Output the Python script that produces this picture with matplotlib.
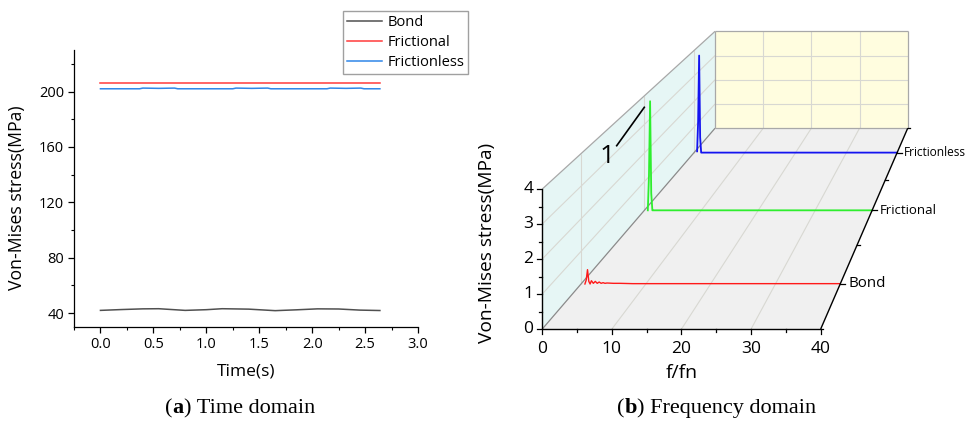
import numpy as np
import matplotlib
matplotlib.use("Agg")
import matplotlib.pyplot as plt
from matplotlib.ticker import MultipleLocator

plt.rcParams['font.family'] = ['Open Sans', 'DejaVu Sans']

# ---- (a) time domain data ----
time = [0.0, 0.2, 0.4, 0.55, 0.8, 1.0, 1.15, 1.4, 1.65, 1.85, 2.05, 2.25, 2.45, 2.64]
bond_t = [42.0, 42.6, 43.1, 43.2, 42.0, 42.5, 43.2, 42.9, 41.8, 42.4, 43.1, 43.0, 42.2, 41.9]
frictional_t = [206.0] * len(time)
time_fl = [0.0, 0.37, 0.40, 0.55, 0.70, 0.73, 1.25, 1.28, 1.43, 1.58, 1.61,
           2.14, 2.17, 2.32, 2.46, 2.49, 2.64]
frictionless_t = [202.0, 202.0, 202.5, 202.3, 202.5, 202.0, 202.0, 202.5, 202.3,
                  202.5, 202.0, 202.0, 202.5, 202.3, 202.5, 202.0, 202.0]

# ---- (b) frequency domain data ----
series_names = ['Bond', 'Frictional', 'Frictionless']
series_colors = ['#FF1A1A', '#2EEE2E', '#1414F0']
freq = [0.6, 0.8, 1.0, 1.2, 1.4, 1.6, 1.9, 2.2, 2.5, 2.8, 3.1, 3.4, 3.7, 4.0,
        5.0, 6.0, 8.0, 10, 15, 20, 25, 30, 35, 40]
bond_f = [0.0, 0.12, 0.44, 0.08, 0.0, 0.1, 0.02, 0.08, 0.02, 0.06, 0.02, 0.04,
          0.02, 0.03, 0.02, 0.02, 0.01, 0.01, 0.01, 0.01, 0.01, 0.01, 0.01, 0.01]
frictional_f = [0.0, 1.2, 3.81, 0.6, 0.0, 0.0, 0.0, 0.0, 0.0, 0.0, 0.0, 0.0,
                0.0, 0.0, 0.0, 0.0, 0.0, 0.0, 0.0, 0.0, 0.0, 0.0, 0.0, 0.0]
frictionless_f = [0.05, 1.2, 3.80, 0.6, 0.0, 0.0, 0.0, 0.0, 0.0, 0.0, 0.0, 0.0,
                  0.0, 0.0, 0.0, 0.0, 0.0, 0.0, 0.0, 0.0, 0.0, 0.0, 0.0, 0.0]
spectra = [bond_f, frictional_f, frictionless_f]
f_ticks = [0, 10, 20, 30, 40]
z_ticks = [0, 1, 2, 3, 4]

W, H = 970, 421
fig = plt.figure(figsize=(9.7, 4.21), dpi=100)

# ================= (a) =================
ax1 = fig.add_axes([74 / W, 94 / H, 344 / W, 277 / H])
ax1.plot(time, bond_t, color='#505050', lw=1.1, label='Bond')
ax1.plot(time, frictional_t, color='#FF3B3B', lw=1.1, label='Frictional')
ax1.plot(time_fl, frictionless_t, color='#2F86E8', lw=1.1, label='Frictionless')
ax1.set_xlim(-0.25, 3.0)
ax1.set_ylim(30, 230)
ax1.set_xticks(np.arange(0, 3.01, 0.5))
ax1.set_yticks([40, 80, 120, 160, 200])
ax1.xaxis.set_minor_locator(MultipleLocator(0.25))
ax1.yaxis.set_minor_locator(MultipleLocator(20))
for s in ['top', 'right']:
    ax1.spines[s].set_visible(False)
for s in ['left', 'bottom']:
    ax1.spines[s].set_linewidth(0.9)
ax1.tick_params(which='major', direction='out', length=4, width=0.9, labelsize=10.5, pad=3)
ax1.tick_params(which='minor', direction='out', length=2.5, width=0.8)
ax1.set_xlabel('Time(s)', fontsize=12.5)
ax1.set_ylabel('Von-Mises stress(MPa)', fontsize=12.7)
ax1.xaxis.set_label_coords(0.5, -0.13)
ax1.yaxis.set_label_coords(-0.14, 0.467)
fig.legend(loc='upper right', bbox_to_anchor=(468 / W, 1 - 11 / H), fontsize=10.5,
           frameon=True, fancybox=False, edgecolor='#A0A0A0', framealpha=1,
           handlelength=2.4, handletextpad=0.4, borderpad=0.25, labelspacing=0.35,
           borderaxespad=0)

# ================= (b) =================
U_PX, V_PX = 6.96, 35.0
X0, Y0 = 542.3, 329.0
ax2 = fig.add_axes([480 / W, 0, 490 / W, 1])
ax2.set_xlim((480 - X0) / U_PX, (970 - X0) / U_PX)
ax2.set_ylim((Y0 - 421) / V_PX, Y0 / V_PX)
ax2.axis('off')

VP_U, VP_V, PERSP = 80.6, 18.63, 0.445


def proj(f, d, z):
    f = np.asarray(f, float)
    z = np.asarray(z, float)
    sc = 1.0 / (1.0 + PERSP * np.asarray(d, float))
    return VP_U + (f - VP_U) * sc, VP_V + (z - VP_V) * sc


def poly(pts, **kw):
    u, v = proj(*np.array(pts).T)
    ax2.fill(u, v, **kw)


def seg(p, q, **kw):
    u, v = proj(*np.array([p, q]).T)
    ax2.plot(u, v, solid_capstyle='butt', **kw)


# walls
poly([(0, 0, 0), (0, 1, 0), (0, 1, 4), (0, 0, 4)], color='#E6F6F5', lw=0, zorder=0)
poly([(0, 1, 0), (40, 1, 0), (40, 1, 4), (0, 1, 4)], color='#FFFDDF', lw=0, zorder=0)
poly([(0, 0, 0), (40, 0, 0), (40, 1, 0), (0, 1, 0)], color='#F0F0F0', lw=0, zorder=0)

grid_kw = dict(color='#D8D8D2', lw=0.8, zorder=1)
for fv in f_ticks[1:-1]:
    seg((fv, 0, 0), (fv, 1, 0), **grid_kw)
    seg((fv, 1, 0), (fv, 1, 4), **grid_kw)
for zv in z_ticks[1:-1]:
    seg((0, 0, zv), (0, 1, zv), **grid_kw)
    seg((0, 1, zv), (40, 1, zv), **grid_kw)
depths = [(i + 0.5) / len(series_names) for i in range(len(series_names))]
for dv in depths:
    seg((0, dv, 0), (0, dv, 4), **grid_kw)

edge_kw = dict(color='#A8A8A8', lw=0.9, zorder=2)
seg((0, 0, 4), (0, 1, 4), **edge_kw)
seg((0, 1, 4), (40, 1, 4), **edge_kw)
seg((40, 1, 4), (40, 1, 0), **edge_kw)
seg((0, 1, 0), (40, 1, 0), **edge_kw)
seg((0, 1, 0), (0, 1, 4), **edge_kw)
seg((0, 0, 0), (0, 1, 0), color='#8A8A8A', lw=0.9, zorder=2)

# spectra
for name, col, dv, amp in zip(series_names, series_colors, depths, spectra):
    u, v = proj(freq, np.full(len(freq), dv), amp)
    ax2.plot(u, v, color=col, lw=1.3 if name != 'Bond' else 1.0, zorder=3)

# axes lines
ax_kw = dict(color='black', lw=1.0, zorder=4)
seg((0, 0, 0), (40, 0, 0), **ax_kw)
seg((0, 0, 0), (0, 0, 4), **ax_kw)
seg((40, 0, 0), (40, 1, 0), **ax_kw)

# f ticks
for fv in np.arange(0, 40.1, 5):
    L = 5 / V_PX if fv % 10 == 0 else 3 / V_PX
    ax2.plot([fv, fv], [0, -L], color='black', lw=0.9, zorder=4)
for fv in f_ticks:
    ax2.text(fv, -0.58, str(fv), ha='center', va='center', fontsize=12.5)
ax2.text((681.7 - X0) / U_PX, (Y0 - 373) / V_PX, 'f/fn', ha='center', va='center',
         fontsize=14)

# z ticks
for zv in np.arange(0, 4.01, 0.5):
    L = 5 / U_PX if zv % 1 == 0 else 3 / U_PX
    ax2.plot([0, -L], [zv, zv], color='black', lw=0.9, zorder=4)
for zv in z_ticks:
    ax2.text(-1.3, zv, str(zv), ha='right', va='center', fontsize=12.5)
ax2.text((487 - X0) / U_PX, (Y0 - 243) / V_PX, 'Von-Mises stress(MPa)', rotation=90,
         ha='center', va='center', fontsize=13.8)

# depth ticks
for dv in np.arange(0, 1.001, 1 / 6):
    u, v = proj(40, dv, 0)
    major = any(abs(dv - x) < 1e-6 for x in depths)
    L = (4.5 if major else 2.5) / U_PX
    ax2.plot([u, u + L], [v, v], color='black', lw=0.9, zorder=4)
for name, dv in zip(series_names, depths):
    u, v = proj(40, dv, 0)
    sc = 1.0 / (1.0 + PERSP * dv)
    ax2.text(u + 1.3 * sc, v, name, ha='left', va='center', fontsize=11.7 * sc)

# annotation for the fundamental peak
ax2.plot([(616.7 - X0) / U_PX, (644.3 - X0) / U_PX],
         [(Y0 - 145.7) / V_PX, (Y0 - 107.3) / V_PX], color='black', lw=1.2, zorder=4)
ax2.text((606.7 - X0) / U_PX, (Y0 - 156.7) / V_PX, '1', ha='center', va='center',
         fontsize=19)


# captions
def caption(x_px, letter, rest):
    t1 = fig.text(x_px / W, 8 / H, '(', family='Liberation Serif', fontsize=16,
                  va='baseline')
    a = ax1.annotate(letter, xy=(1, 0), xycoords=t1, va='bottom', ha='left',
                     family='Liberation Serif', fontsize=16, weight='bold')
    ax1.annotate(rest, xy=(1, 0), xycoords=a, va='bottom', ha='left',
                 family='Liberation Serif', fontsize=16)


caption(165, 'a', ') Time domain')
caption(617, 'b', ') Frequency domain')

fig.savefig('out.png', dpi=100)
